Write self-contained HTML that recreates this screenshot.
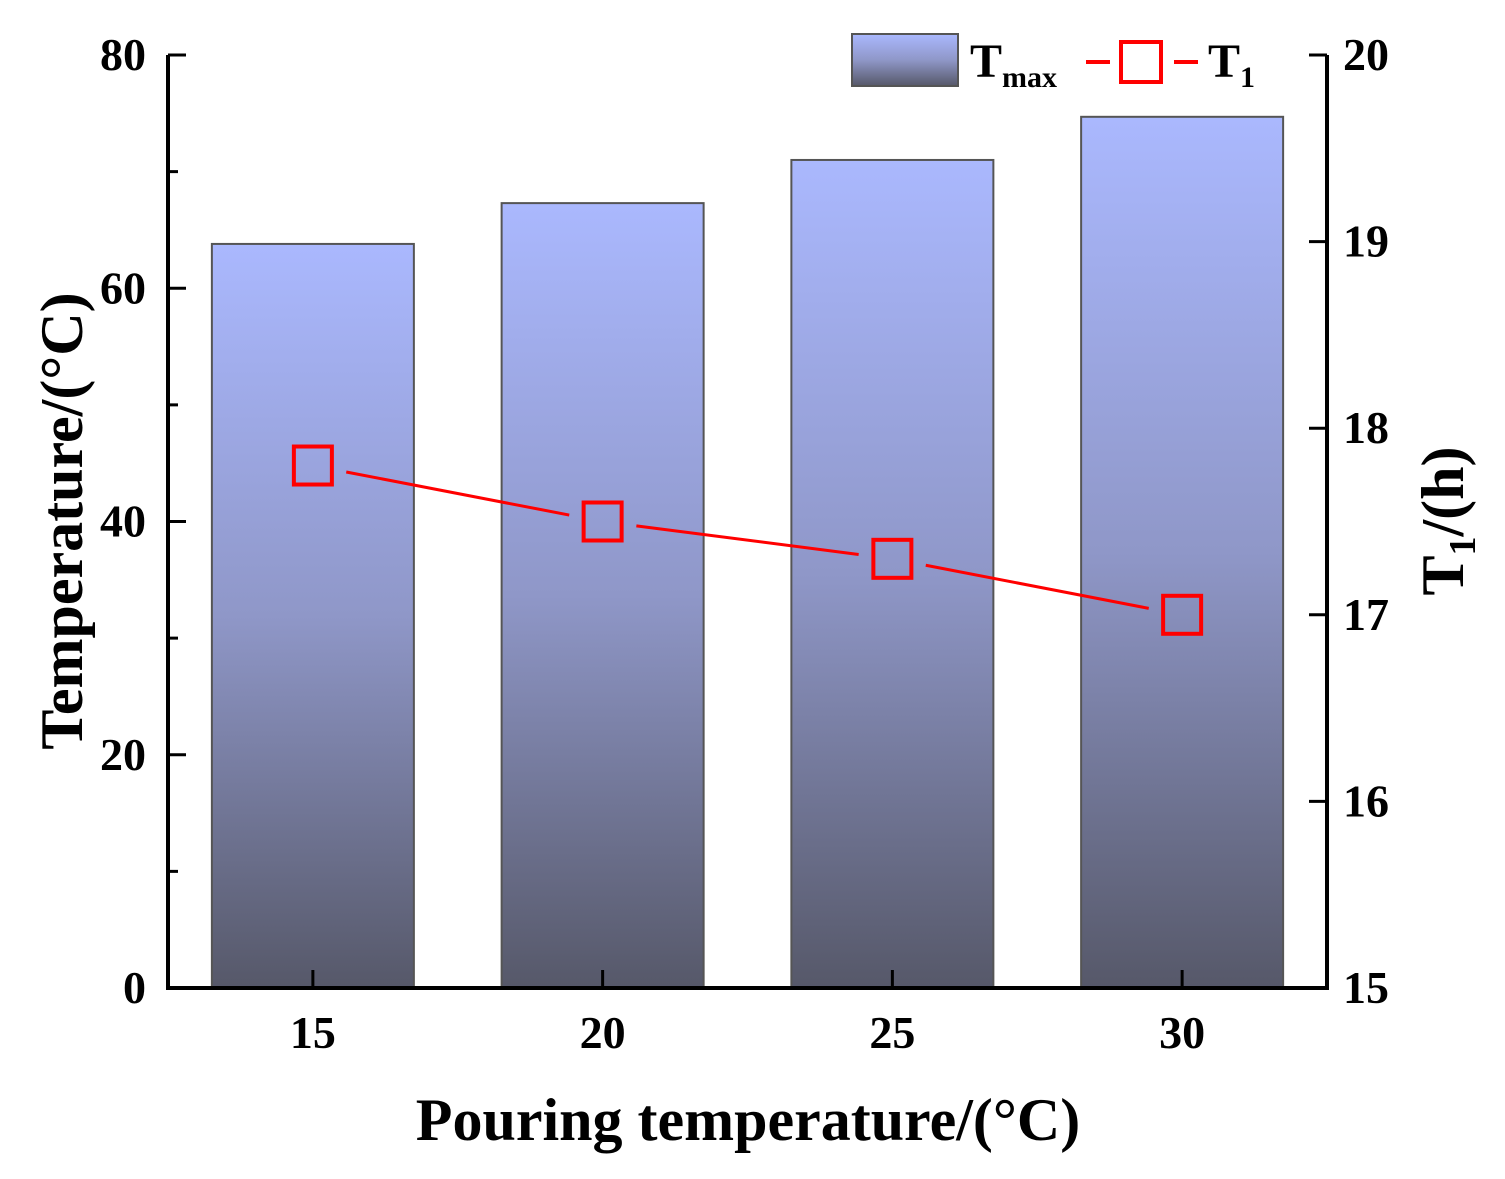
<!DOCTYPE html>
<html><head><meta charset="utf-8"><style>
html,body{margin:0;padding:0;background:#fff;}
svg{display:block;font-family:"Liberation Serif",serif;font-weight:bold;}
</style></head><body>
<svg id="c" width="1505" height="1179" viewBox="0 0 1505 1179">
<defs><linearGradient id="g" x1="0" y1="0" x2="0" y2="1"><stop offset="0" stop-color="#aab8fe"/><stop offset="0.5" stop-color="#8f97c8"/><stop offset="1" stop-color="#565869"/></linearGradient></defs>
<g id="bars"></g><g id="line"></g><g id="axes"></g>
<g>
<rect x="852" y="34" width="106" height="52" fill="url(#g)" stroke="#555" stroke-width="2"/>
<text x="970" y="77" font-size="48">T<tspan font-size="30" dy="10">max</tspan></text>
<line x1="1086" y1="62" x2="1110" y2="62" stroke="#f00" stroke-width="4"/>
<line x1="1174" y1="62" x2="1198" y2="62" stroke="#f00" stroke-width="4"/>
<rect x="1121" y="42" width="40" height="40" fill="none" stroke="#f00" stroke-width="4"/>
<text x="1208" y="77" font-size="48">T<tspan font-size="30" dy="10">1</tspan></text>
</g>
<text x="748" y="1140" font-size="60" text-anchor="middle">Pouring temperature/(°C)</text>
<text transform="translate(82,521) rotate(-90)" font-size="60" text-anchor="middle">Temperature/(°C)</text>
<text transform="translate(1463,521) rotate(-90)" font-size="60" text-anchor="middle">T<tspan font-size="38" dy="12">1</tspan><tspan dy="-12">/(h)</tspan></text>
</svg>
<script>
const categories=[15,20,25,30];
const tmaxValues=[63.8,67.3,71.0,74.7];
const t1Values=[17.8,17.5,17.3,17.0];
const leftTicks=[0,20,40,60,80];
const rightTicks=[15,16,17,18,19,20];
const NS="http://www.w3.org/2000/svg";
const L=168,R=1327,T=55,B=988;
const x=v=>L+(v-12.5)/(32.5-12.5)*(R-L);
const yl=v=>B-v/80*(B-T);
const yr=v=>B-(v-15)/5*(B-T);
function mk(tag,a,p){const e=document.createElementNS(NS,tag);for(const k in a)e.setAttribute(k,a[k]);document.getElementById(p).appendChild(e);return e;}
const bw=202;
categories.forEach((c,i)=>{
 const r=mk('rect',{x:x(c)-bw/2,y:yl(tmaxValues[i]),width:bw,height:B-yl(tmaxValues[i]),fill:'url(#g)',stroke:'#555','stroke-width':2},'bars');
 
 
});
const pts=categories.map((c,i)=>[x(c),yr(t1Values[i])]);
for(let i=0;i<pts.length-1;i++){
 const [x1,y1]=pts[i],[x2,y2]=pts[i+1];const d=Math.hypot(x2-x1,y2-y1),ux=(x2-x1)/d,uy=(y2-y1)/d,g=34;
 const s=mk('line',{x1:x1+ux*g,y1:y1+uy*g,x2:x2-ux*g,y2:y2-uy*g,stroke:'#f00','stroke-width':3},'line');
 
 
}
pts.forEach((p,i)=>{
 const m=mk('rect',{x:p[0]-19,y:p[1]-19,width:38,height:38,fill:'none',stroke:'#f00','stroke-width':4},'line');
 
 
});
const ax=mk('path',{d:`M${L},${T}V${B}H${R}V${T}`,fill:'none',stroke:'#000','stroke-width':4},'axes');


leftTicks.forEach(v=>{
 mk('line',{x1:L,x2:L+18,y1:yl(v),y2:yl(v),stroke:'#000','stroke-width':3},'axes');
 const t=mk('text',{x:L-22,y:yl(v)+15,'font-size':46,'text-anchor':'end'},'axes');t.textContent=v;
 
 
 if(v<80)mk('line',{x1:L,x2:L+10,y1:yl(v+10),y2:yl(v+10),stroke:'#000','stroke-width':3},'axes');
});
rightTicks.forEach(v=>{
 mk('line',{x1:R-18,x2:R,y1:yr(v),y2:yr(v),stroke:'#000','stroke-width':3},'axes');
 const t=mk('text',{x:R+16,y:yr(v)+15,'font-size':46},'axes');t.textContent=v;
 
 
});
categories.forEach(c=>{
 mk('line',{x1:x(c),x2:x(c),y1:B,y2:B-18,stroke:'#000','stroke-width':3},'axes');
 const t=mk('text',{x:x(c),y:B+60,'font-size':46,'text-anchor':'middle'},'axes');t.textContent=c;
 
 
});
</script>
</body></html>
